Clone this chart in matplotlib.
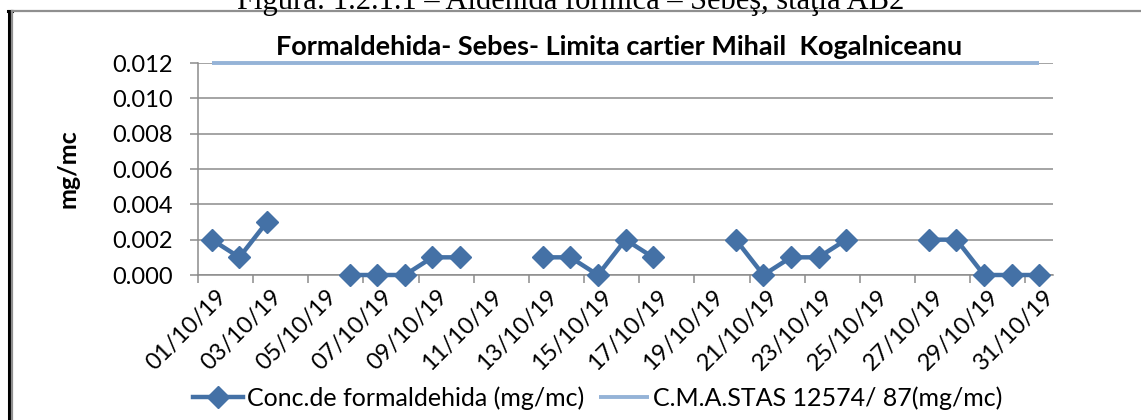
import numpy as np
import matplotlib.pyplot as plt
from matplotlib.lines import Line2D

plt.rcParams['font.family'] = ['Lato', 'DejaVu Sans']

# zile 1..31 octombrie 2019, NaN = lipsa date
days = np.arange(1, 32)
labels = ['%02d/10/19' % d for d in days]
conc = [0.002, 0.001, 0.003, np.nan, np.nan, 0.000, 0.000, 0.000, 0.001, 0.001,
        np.nan, np.nan, 0.001, 0.001, 0.000, 0.002, 0.001, np.nan, np.nan, 0.002,
        0.000, 0.001, 0.001, 0.002, np.nan, np.nan, 0.002, 0.002, 0.000, 0.000,
        0.000]
cma = [0.012] * 31

W, H = 1141, 420
fig = plt.figure(figsize=(W / 100, H / 100), dpi=100)

# axa: pixeli din referinta
x0, x1, y0, y1 = 198, 1053, 63, 275
ax = fig.add_axes([x0 / W, 1 - y1 / H, (x1 - x0) / W, (y1 - y0) / H])

grid = '#8c8c8c'
ax.plot(days, cma, color='#95b3d7', lw=2.8, solid_capstyle='butt', zorder=3,
        clip_on=False, label='C.M.A.STAS 12574/ 87(mg/mc)')
ax.plot(days, conc, color='#4471a6', lw=3.2, marker='D', ms=11, zorder=4,
        clip_on=False, label='Conc.de formaldehida (mg/mc)')

ax.set_xlim(0.5, 31.5)
ax.set_ylim(0, 0.012)
ax.set_yticks(np.arange(0, 0.0121, 0.002))
ax.set_yticklabels(['%.3f' % v for v in np.arange(0, 0.0121, 0.002)], fontsize=17)
ax.yaxis.grid(True, color=grid, lw=1.1)
ax.set_axisbelow(True)

ax.set_xticks(np.arange(0.5, 31, 2))
ax.set_xticklabels([])
ax.tick_params(axis='x', length=6, width=1.1, color=grid)
ax.tick_params(axis='y', length=6, width=1.1, color=grid, pad=12)
for d in days[::2]:
    ax.text(d + 0.15, -0.0006, labels[d - 1], rotation=45, rotation_mode='anchor',
            ha='right', va='top', fontsize=17)

for s in ['top', 'right']:
    ax.spines[s].set_visible(False)
for s in ['left', 'bottom']:
    ax.spines[s].set_color(grid)
    ax.spines[s].set_linewidth(1.1)

ax.set_ylabel('mg/mc', fontsize=18, fontweight='bold', labelpad=24)

fig.text(619 / W, 1 - 47 / H, 'Formaldehida- Sebes- Limita cartier Mihail  Kogalniceanu',
         ha='center', va='center', fontsize=19.5, fontweight='bold')

h, l = ax.get_legend_handles_labels()
fig.legend(h[::-1], l[::-1], loc='center', bbox_to_anchor=(598 / W, 1 - 398 / H),
           ncol=2, frameon=False, fontsize=18, handlelength=2.0, handletextpad=0.15,
           columnspacing=0.6, borderaxespad=0)

# chenarul si titlul figurii (taiat sus, ca in original)
fig.add_artist(Line2D([8.5 / W, 8.5 / W], [0, 1 - 10.5 / H], color='black', lw=2.2))
fig.add_artist(Line2D([7.5 / W, 12 / W], [1 - 10.5 / H, 1 - 10.5 / H], color='black', lw=2.2))
fig.add_artist(Line2D([12 / W, 12 / W], [0, 1 - 11 / H], color='#8f8f8f', lw=1.6))
fig.add_artist(Line2D([12 / W, 1], [1 - 11 / H, 1 - 11 / H], color='#8f8f8f', lw=1.6))
fig.text(571 / W, 1 - 9 / H, 'Figura: 1.2.1.1 – Aldehida formica – Sebeş, staţia AB2',
         ha='center', va='baseline', fontsize=22, family=['Liberation Serif', 'DejaVu Serif'])

fig.savefig('out.png', dpi=100)
